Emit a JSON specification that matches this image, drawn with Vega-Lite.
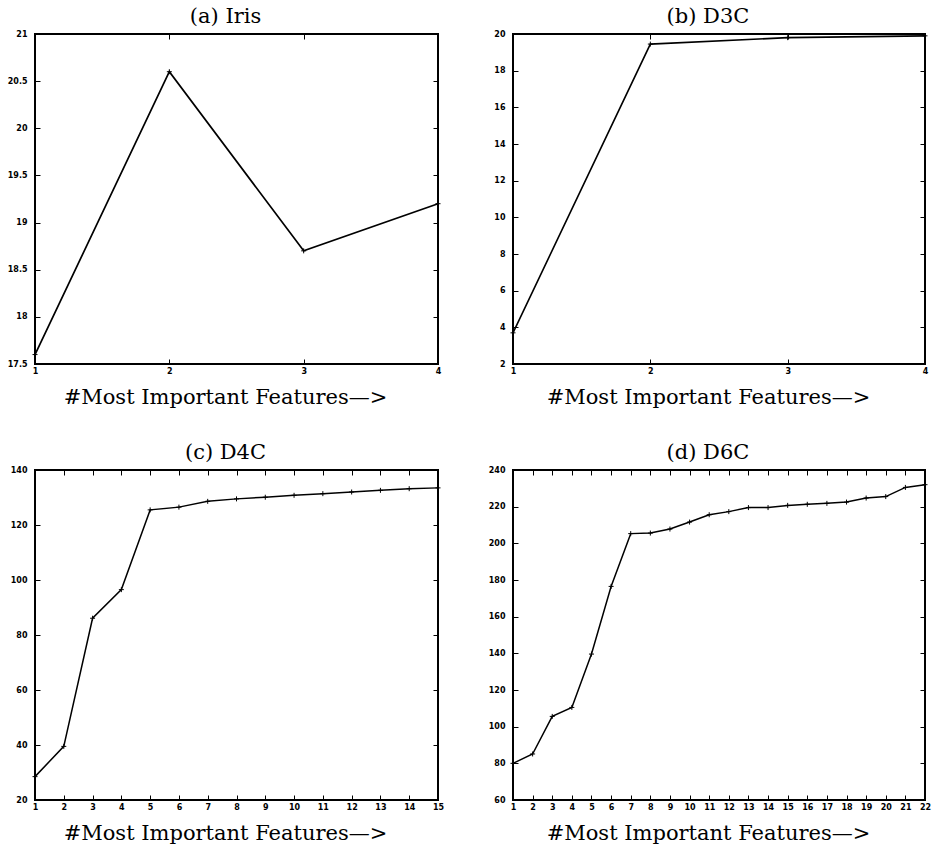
{
  "$schema": "https://vega.github.io/schema/vega-lite/v6.json",
  "padding": {"left": 6, "top": 5, "right": 5, "bottom": 5},
  "background": "white",
  "datasets": {
    "iris": [{"k": 1, "v": 17.6}, {"k": 2, "v": 20.6}, {"k": 3, "v": 18.7}, {"k": 4, "v": 19.2}],
    "d3c": [{"k": 1, "v": 3.7}, {"k": 2, "v": 19.45}, {"k": 3, "v": 19.8}, {"k": 4, "v": 19.9}],
    "d4c": [
      {"k": 1, "v": 28.5}, {"k": 2, "v": 39.5}, {"k": 3, "v": 86.1}, {"k": 4, "v": 96.5}, {"k": 5, "v": 125.5},
      {"k": 6, "v": 126.5}, {"k": 7, "v": 128.6}, {"k": 8, "v": 129.5}, {"k": 9, "v": 130.1}, {"k": 10, "v": 130.8},
      {"k": 11, "v": 131.4}, {"k": 12, "v": 132.0}, {"k": 13, "v": 132.6}, {"k": 14, "v": 133.2}, {"k": 15, "v": 133.5}
    ],
    "d6c": [
      {"k": 1, "v": 80}, {"k": 2, "v": 85.1}, {"k": 3, "v": 105.6}, {"k": 4, "v": 110.5}, {"k": 5, "v": 139.6},
      {"k": 6, "v": 176.5}, {"k": 7, "v": 205.3}, {"k": 8, "v": 205.6}, {"k": 9, "v": 207.8}, {"k": 10, "v": 211.6},
      {"k": 11, "v": 215.6}, {"k": 12, "v": 217.3}, {"k": 13, "v": 219.5}, {"k": 14, "v": 219.5}, {"k": 15, "v": 220.7},
      {"k": 16, "v": 221.3}, {"k": 17, "v": 221.8}, {"k": 18, "v": 222.5}, {"k": 19, "v": 224.7}, {"k": 20, "v": 225.5},
      {"k": 21, "v": 230.5}, {"k": 22, "v": 232.0}
    ]
  },
  "columns": 2,
  "bounds": "flush",
  "spacing": {"row": 106, "column": 75},
  "concat": [
    {
      "width": 403, "height": 330,
      "title": {"text": "(a) Iris", "frame": "group", "anchor": "middle", "dx": -11, "offset": -14, "baseline": "alphabetic"},
      "data": {"name": "iris"},
      "layer": [
        {"mark": {"type": "line", "color": "black", "strokeWidth": 1.7},
         "encoding": {
           "x": {"field": "k", "type": "quantitative", "scale": {"domain": [1, 4], "nice": false, "zero": false},
                 "axis": {"orient": "bottom", "values": [1, 2, 3, 4], "format": "d", "title": "#Most Important Features—>", "titleX": 190}},
           "y": {"field": "v", "type": "quantitative", "scale": {"domain": [17.5, 21], "nice": false, "zero": false},
                 "axis": {"orient": "left", "values": [17.5, 18, 18.5, 19, 19.5, 20, 20.5, 21], "format": "~g", "title": null}}
         }},
        {"mark": {"type": "point", "shape": "M-1,0H1M0,-1V1", "size": 25, "filled": false, "color": "black", "strokeWidth": 1, "opacity": 1},
         "encoding": {
           "x": {"field": "k", "type": "quantitative", "axis": {"orient": "top", "values": [1, 2, 3, 4], "labels": false, "title": null}},
           "y": {"field": "v", "type": "quantitative", "axis": {"orient": "right", "values": [17.5, 18, 18.5, 19, 19.5, 20, 20.5, 21], "labels": false, "title": null}}
         }}
      ],
      "resolve": {"axis": {"x": "independent", "y": "independent"}}
    },
    {
      "width": 412, "height": 330,
      "title": {"text": "(b) D3C", "frame": "group", "anchor": "middle", "dx": -11, "offset": -14, "baseline": "alphabetic"},
      "data": {"name": "d3c"},
      "layer": [
        {"mark": {"type": "line", "color": "black", "strokeWidth": 1.6},
         "encoding": {
           "x": {"field": "k", "type": "quantitative", "scale": {"domain": [1, 4], "nice": false, "zero": false},
                 "axis": {"orient": "bottom", "values": [1, 2, 3, 4], "format": "d", "title": "#Most Important Features—>", "titleX": 195}},
           "y": {"field": "v", "type": "quantitative", "scale": {"domain": [2, 20], "nice": false, "zero": false},
                 "axis": {"orient": "left", "values": [2, 4, 6, 8, 10, 12, 14, 16, 18, 20], "format": "d", "title": null}}
         }},
        {"mark": {"type": "point", "shape": "M-1,0H1M0,-1V1", "size": 25, "filled": false, "color": "black", "strokeWidth": 1, "opacity": 1},
         "encoding": {
           "x": {"field": "k", "type": "quantitative", "axis": {"orient": "top", "values": [1, 2, 3, 4], "labels": false, "title": null}},
           "y": {"field": "v", "type": "quantitative", "axis": {"orient": "right", "values": [2, 4, 6, 8, 10, 12, 14, 16, 18, 20], "labels": false, "title": null}}
         }}
      ],
      "resolve": {"axis": {"x": "independent", "y": "independent"}}
    },
    {
      "width": 403, "height": 330,
      "title": {"text": "(c) D4C", "frame": "group", "anchor": "middle", "dx": -11, "offset": -14, "baseline": "alphabetic"},
      "data": {"name": "d4c"},
      "layer": [
        {"mark": {"type": "line", "color": "black", "strokeWidth": 1.5},
         "encoding": {
           "x": {"field": "k", "type": "quantitative", "scale": {"domain": [1, 15], "nice": false, "zero": false},
                 "axis": {"orient": "bottom", "values": [1, 2, 3, 4, 5, 6, 7, 8, 9, 10, 11, 12, 13, 14, 15], "format": "d", "title": "#Most Important Features—>", "titleX": 190}},
           "y": {"field": "v", "type": "quantitative", "scale": {"domain": [20, 140], "nice": false, "zero": false},
                 "axis": {"orient": "left", "values": [20, 40, 60, 80, 100, 120, 140], "format": "d", "title": null}}
         }},
        {"mark": {"type": "point", "shape": "M-1,0H1M0,-1V1", "size": 25, "filled": false, "color": "black", "strokeWidth": 1, "opacity": 1},
         "encoding": {
           "x": {"field": "k", "type": "quantitative", "axis": {"orient": "top", "values": [1, 2, 3, 4, 5, 6, 7, 8, 9, 10, 11, 12, 13, 14, 15], "labels": false, "title": null}},
           "y": {"field": "v", "type": "quantitative", "axis": {"orient": "right", "values": [20, 40, 60, 80, 100, 120, 140], "labels": false, "title": null}}
         }}
      ],
      "resolve": {"axis": {"x": "independent", "y": "independent"}}
    },
    {
      "width": 412, "height": 330,
      "title": {"text": "(d) D6C", "frame": "group", "anchor": "middle", "dx": -11, "offset": -14, "baseline": "alphabetic"},
      "data": {"name": "d6c"},
      "layer": [
        {"mark": {"type": "line", "color": "black", "strokeWidth": 1.5},
         "encoding": {
           "x": {"field": "k", "type": "quantitative", "scale": {"domain": [1, 22], "nice": false, "zero": false},
                 "axis": {"orient": "bottom", "values": [1, 2, 3, 4, 5, 6, 7, 8, 9, 10, 11, 12, 13, 14, 15, 16, 17, 18, 19, 20, 21, 22], "format": "d", "title": "#Most Important Features—>", "titleX": 195}},
           "y": {"field": "v", "type": "quantitative", "scale": {"domain": [60, 240], "nice": false, "zero": false},
                 "axis": {"orient": "left", "values": [60, 80, 100, 120, 140, 160, 180, 200, 220, 240], "format": "d", "title": null}}
         }},
        {"mark": {"type": "point", "shape": "M-1,0H1M0,-1V1", "size": 25, "filled": false, "color": "black", "strokeWidth": 1, "opacity": 1},
         "encoding": {
           "x": {"field": "k", "type": "quantitative", "axis": {"orient": "top", "values": [1, 2, 3, 4, 5, 6, 7, 8, 9, 10, 11, 12, 13, 14, 15, 16, 17, 18, 19, 20, 21, 22], "labels": false, "title": null}},
           "y": {"field": "v", "type": "quantitative", "axis": {"orient": "right", "values": [60, 80, 100, 120, 140, 160, 180, 200, 220, 240], "labels": false, "title": null}}
         }}
      ],
      "resolve": {"axis": {"x": "independent", "y": "independent"}}
    }
  ],
  "config": {
    "view": {"stroke": "black", "strokeWidth": 2},
    "title": {"font": "DejaVu Serif", "fontSize": 21, "fontWeight": "normal", "color": "black"},
    "axis": {
      "domain": false, "grid": false,
      "ticks": true, "tickSize": -5, "tickColor": "black", "tickWidth": 1,
      "labelFont": "DejaVu Sans", "labelFontWeight": "bold", "labelFontSize": 8, "labelColor": "black",
      "labelFlush": false, "labelOverlap": false, "labelAngle": 0,
      "titleFont": "DejaVu Serif", "titleFontSize": 21, "titleFontWeight": "normal", "titleColor": "black",
      "titleBaseline": "alphabetic", "titleAnchor": "middle", "titleAlign": "center"
    },
    "axisBottom": {"labelPadding": 8, "titleY": 39},
    "axisLeft": {"labelPadding": 13}
  }
}
